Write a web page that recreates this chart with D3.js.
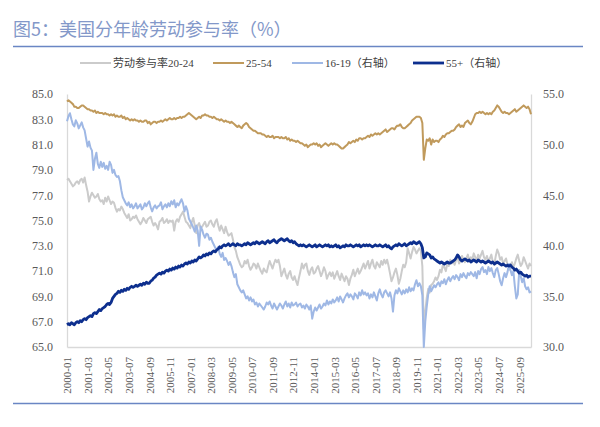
<!DOCTYPE html>
<html>
<head>
<meta charset="utf-8">
<script src="https://cdn.jsdelivr.net/npm/d3@7"></script>
<style>
  body { margin: 0; background: #fff; }
  svg { display: block; }
</style>
</head>
<body>
<div id="chart"></div>
<script>
// monthly categories 2000-01 .. 2026-05
const months = d3.timeMonth
  .range(new Date(2000, 0, 1), new Date(2026, 5, 1))
  .map(d3.timeFormat("%Y-%m"));

const tickLabels = ["2000-01", "2001-03", "2002-05", "2003-07", "2004-09", "2005-11",
  "2007-01", "2008-03", "2009-05", "2010-07", "2011-09", "2012-11", "2014-01",
  "2015-03", "2016-05", "2017-07", "2018-09", "2019-11", "2021-01", "2022-03",
  "2023-05", "2024-07", "2025-09"];

const leftTicks = [65, 67, 69, 71, 73, 75, 77, 79, 81, 83, 85];
const rightTicks = [30, 35, 40, 45, 50, 55];

// 劳动参与率20-24 (left axis)
const lfpr2024 = [
  78.2, 78.3, 78.1, 77.9, 77.7, 77.8, 78.0, 78.1, 77.9, 78.2, 78.3, 78.0,
  78.4, 77.8, 77.3, 76.5, 76.9, 77.2, 77.0, 76.8, 76.9, 77.1, 76.7, 76.5,
  76.6, 76.3, 76.8, 76.5, 76.9, 76.6, 76.3, 76.5, 76.4, 76.0, 75.7, 75.9,
  75.8, 76.1, 75.9, 75.6, 75.4, 75.2, 75.5, 75.0, 75.1, 75.3, 75.2, 75.4,
  75.1, 74.9, 74.7, 74.9, 75.2, 75.0, 74.8, 75.1, 75.2, 75.3, 74.9, 74.6,
  74.8, 74.6, 74.3, 74.9, 75.0, 75.2, 74.8, 74.9, 75.1, 74.8, 75.0, 74.9,
  75.0, 74.2, 74.9, 75.1, 74.9, 75.3, 75.5, 75.7, 75.3, 74.9, 74.8, 74.6,
  74.4, 74.9, 75.2, 74.6, 74.0, 74.6, 74.8, 74.4, 74.5, 74.7, 74.9, 74.5,
  74.6, 74.9, 75.0, 74.7, 74.5, 74.9, 75.1, 74.6, 74.2, 74.6, 74.3, 74.0,
  74.5, 74.1, 73.8, 73.9, 74.0, 73.5, 72.9, 72.6, 72.1, 71.8, 71.5, 71.3,
  71.4, 71.8, 71.6, 71.9, 71.4, 71.1, 71.3, 71.6, 71.5, 71.2, 71.6, 71.3,
  71.0, 70.8, 71.2, 71.0, 70.9, 71.4, 71.8, 71.5, 71.2, 71.6, 71.9, 71.7,
  71.9, 71.4, 70.6, 70.9, 71.2, 70.7, 70.4, 70.8, 71.0, 70.5, 70.3, 70.6,
  70.2, 69.9, 70.5, 71.0, 71.6, 71.2, 71.5, 71.6, 71.0, 70.7, 71.1, 71.3,
  70.8, 70.9, 71.2, 71.4, 71.0, 70.6, 70.9, 71.3, 71.0, 70.4, 70.7, 70.9,
  70.6, 70.9, 70.4, 70.7, 71.0, 70.6, 70.3, 70.8, 70.5, 70.2, 70.6, 70.4,
  69.9, 70.4, 70.7, 71.1, 70.6, 70.9, 71.2, 70.8, 71.0, 71.3, 71.6, 71.2,
  71.5, 71.8, 71.2, 71.6, 71.9, 71.4, 71.2, 71.7, 71.5, 71.3, 71.8, 71.5,
  71.9, 71.6, 71.9, 71.4, 70.8, 70.2, 70.5, 70.9, 71.2, 70.7, 70.0, 70.4,
  71.0, 71.5, 71.3, 71.7, 72.8, 72.4, 72.0, 72.5, 72.9, 72.7, 72.4, 72.6,
  72.8, 72.6, 71.4, 66.4, 67.8, 68.9, 69.6, 69.3, 69.9, 70.0, 70.2, 70.5,
  70.3, 70.6, 71.1, 70.9, 71.5, 71.3, 71.0, 71.6, 71.4, 71.9, 71.6, 71.8,
  71.5, 71.9, 72.1, 71.6, 71.8, 72.2, 71.9, 71.7, 72.0, 72.3, 71.8, 72.1,
  71.9, 72.4, 72.1, 71.8, 72.3, 72.0, 72.3, 72.6, 72.1, 71.9, 72.2, 71.8,
  72.0, 72.3, 71.7, 71.5, 72.2, 72.7, 72.4, 71.9, 72.1, 71.6, 71.8, 72.0,
  71.5, 71.1, 71.4, 71.7, 71.3, 71.6, 72.0, 72.3, 71.8, 71.4, 71.6, 72.1,
  71.8, 71.5, 71.2, 71.6, 71.4
];

// 25-54 (left axis)
const lfpr2554 = [
  84.4, 84.5, 84.4, 84.3, 84.2, 84.0, 84.0, 83.9, 83.9, 84.0, 84.1, 84.1,
  84.0, 83.9, 83.8, 83.8, 83.7, 83.7, 83.6, 83.7, 83.5, 83.6, 83.5, 83.5,
  83.5, 83.4, 83.5, 83.4, 83.4, 83.3, 83.4, 83.3, 83.4, 83.2, 83.3, 83.2,
  83.2, 83.3, 83.1, 83.2, 83.0, 83.1, 83.0, 82.9, 83.0, 82.9, 83.0, 82.9,
  82.9, 82.8, 82.9, 82.8, 82.8, 82.9, 82.9, 82.7, 82.8, 82.6, 82.7, 82.8,
  82.8, 82.7, 82.8, 82.8, 82.9, 82.8, 82.9, 83.0, 82.9, 83.0, 83.1, 83.0,
  83.0, 83.1, 83.0, 83.1, 83.1, 83.2, 83.1, 83.2, 83.2, 83.3, 83.4, 83.5,
  83.4, 83.3, 83.2, 83.1, 83.0, 83.1, 83.2, 83.1, 83.3, 83.3, 83.4, 83.3,
  83.3, 83.2, 83.2, 83.1, 83.2, 83.1, 83.0, 83.0, 82.9, 83.0, 82.9, 82.8,
  82.9, 82.8, 82.8, 82.7, 82.8, 82.7, 82.6, 82.5, 82.4, 82.5, 82.4, 82.3,
  82.5, 82.6, 82.7, 82.6, 82.4, 82.3, 82.2, 82.1, 82.1, 82.0, 81.9, 81.9,
  81.9, 81.8, 81.8, 81.7, 81.6, 81.7, 81.6, 81.6, 81.7, 81.5, 81.6, 81.6,
  81.6, 81.5, 81.6, 81.5, 81.5, 81.6, 81.4, 81.5, 81.3, 81.4, 81.3, 81.3,
  81.2, 81.3, 81.2, 81.1, 81.1, 81.0, 80.9, 81.0, 80.8, 80.9, 81.0, 81.0,
  81.1, 81.0, 81.1, 80.9, 81.0, 80.8, 80.9, 81.0, 81.1, 81.0, 80.9, 81.0,
  81.1, 81.0, 81.1, 81.0, 81.0, 80.9, 80.8, 80.7, 80.7, 80.8, 80.9, 81.0,
  81.2, 81.1, 81.2, 81.3, 81.2, 81.4, 81.3, 81.5, 81.5, 81.4, 81.5, 81.5,
  81.6, 81.7, 81.6, 81.8, 81.7, 81.8, 81.9, 81.8, 81.9, 81.8, 81.9, 82.0,
  82.1, 82.2, 82.0, 82.1, 82.2, 82.3, 82.3, 82.2, 82.4, 82.5, 82.5, 82.6,
  82.4, 82.3, 82.3, 82.4, 82.5, 82.6, 82.7, 82.9, 83.0, 83.1, 83.2, 83.2,
  83.2, 83.1, 82.7, 79.8, 80.7, 81.4, 81.3, 81.5, 81.0, 81.4, 81.2, 81.3,
  81.3, 81.2, 81.4, 81.5, 81.7, 81.6, 81.8, 81.9, 81.9, 82.0, 82.1, 82.1,
  82.2, 82.4, 82.5, 82.6, 82.4, 82.5, 82.4, 82.7, 82.8, 82.9, 82.7, 82.6,
  82.8, 83.1, 83.4, 83.5, 83.5, 83.6, 83.5, 83.6, 83.5, 83.4, 83.5, 83.4,
  83.5, 83.4, 83.6, 83.7, 83.9, 84.1, 84.0, 83.8, 83.6, 83.5, 83.6, 83.5,
  83.5, 83.4, 83.5, 83.6, 83.7, 83.8, 83.6, 83.7, 83.8, 83.9, 84.0, 84.1,
  84.0, 83.9, 84.0, 83.8, 83.4
];

// 16-19 (right axis)
const lfpr1619 = [
  52.3, 52.8, 53.1, 52.5, 52.0, 51.8, 52.4, 52.1, 51.6, 51.9, 52.2, 51.7,
  51.4, 50.6, 49.8, 50.3, 49.7, 49.4, 47.5, 48.6, 49.2, 48.1, 47.7, 48.3,
  47.8, 48.2, 47.6, 47.9, 47.5, 48.3, 48.0, 47.2, 47.5, 47.0, 46.8, 46.9,
  46.4, 45.5, 44.8, 44.5, 44.2, 44.0, 44.3, 43.8, 44.1, 43.7, 43.9, 44.2,
  43.7, 43.9, 44.1, 43.6, 43.8, 44.2, 43.9, 44.2, 44.4, 43.8, 43.4, 43.8,
  44.0, 43.7, 43.9, 44.0, 44.3, 43.6, 43.9, 44.1, 43.8, 44.2, 43.9, 44.4,
  44.1, 44.5, 43.8, 44.2, 44.0, 44.3, 44.6, 44.2, 43.4, 43.9, 43.5, 42.7,
  42.4, 42.1, 41.8, 41.4, 42.0, 41.5, 40.0, 41.9, 41.6, 41.1, 40.8, 41.2,
  41.1, 40.6, 40.8, 40.4, 40.1, 39.8, 39.6, 39.9, 39.2, 38.9, 39.3, 38.6,
  38.8, 38.5, 38.1, 38.4, 38.0, 37.4, 36.9, 37.2, 36.2, 35.9, 35.6, 35.4,
  35.6, 35.2, 34.8, 35.0, 34.6, 34.9, 34.5, 34.7, 34.2, 34.4, 34.0, 34.3,
  34.1, 33.9, 33.7, 34.0, 34.4, 34.2, 34.5, 34.1, 33.8, 34.3, 34.0, 33.7,
  34.0, 34.3, 34.1, 33.8, 34.2, 34.5, 34.0, 34.3, 33.9, 34.4, 34.1, 34.2,
  34.4, 34.0, 34.2, 34.3, 33.9, 34.1, 33.8, 34.2, 34.0, 33.7, 34.1, 32.8,
  33.5, 33.9, 33.6, 33.9, 34.2, 33.8, 34.0, 34.3, 34.1, 34.6, 34.2, 34.5,
  34.3, 34.7, 34.4, 34.6, 34.9, 34.5, 35.0, 34.7, 34.4, 34.8, 35.1, 35.3,
  34.9, 35.2, 35.0, 34.7, 35.3, 35.1, 34.8, 35.4, 35.1, 35.6, 35.2, 35.4,
  35.1, 35.3, 34.8, 35.2, 34.9, 35.4, 35.0, 34.6, 35.3, 35.7, 35.2, 34.9,
  35.4, 35.6, 35.3, 35.0, 35.4, 34.8, 33.5, 35.1, 35.6, 35.3, 35.8, 35.5,
  35.2, 35.6, 35.3, 35.7, 35.4, 35.9, 35.5, 35.8, 35.6, 36.2, 36.6, 36.0,
  36.3, 36.0, 35.1, 30.0, 32.5, 34.0, 35.2, 36.0, 35.5, 35.8, 36.1, 35.9,
  36.2, 36.4, 36.0, 36.5, 36.3, 36.7, 36.2, 36.6, 36.9, 36.5, 36.8, 37.0,
  36.7, 37.1, 36.9, 36.6, 37.2, 36.9, 37.3, 37.0, 36.8, 37.3, 37.1, 37.4,
  37.2, 37.0, 37.4, 36.8, 37.5, 37.2, 37.7, 37.9, 37.4, 37.6, 37.2, 37.9,
  37.5, 37.8, 37.3, 36.9, 37.6, 37.8, 37.2, 36.5, 36.1, 36.8, 37.3, 36.9,
  37.4, 38.2, 37.6, 37.1, 37.5, 36.0, 34.8, 35.2, 37.6, 37.0, 36.4, 36.8,
  36.0, 35.7, 35.9, 35.4, 35.5
];

// 55+ (right axis)
const lfpr55 = [
  32.2, 32.3, 32.2, 32.4, 32.3, 32.2, 32.4, 32.5, 32.4, 32.6, 32.5, 32.7,
  32.8, 32.7, 32.9, 33.0, 33.1, 33.0, 33.3, 33.4, 33.3, 33.5, 33.7, 33.6,
  33.8, 33.9, 34.0, 34.2, 34.3, 34.2, 34.4, 34.8, 35.0, 35.2, 35.3, 35.5,
  35.4, 35.6, 35.5, 35.7, 35.6, 35.8, 35.7, 35.9, 36.0, 35.9, 36.0, 36.1,
  36.0, 36.1, 36.2, 36.1, 36.3, 36.2, 36.4, 36.3, 36.3, 36.5, 36.6, 36.8,
  36.9, 37.1, 37.2, 37.3, 37.2, 37.4, 37.3, 37.5, 37.6, 37.5, 37.7, 37.6,
  37.8, 37.7, 37.9, 37.8, 38.0, 37.9, 38.1, 38.0, 38.2, 38.3, 38.2, 38.4,
  38.3, 38.5, 38.4, 38.6, 38.5, 38.7, 38.9, 38.8, 38.9, 39.1, 39.0, 39.2,
  39.1, 39.3, 39.2, 39.4, 39.5, 39.4, 39.6, 39.7, 39.9, 39.8, 40.0, 40.1,
  40.0, 40.1, 40.2, 40.0, 40.1, 40.2, 40.1, 40.0, 40.2, 40.1, 40.1, 40.0,
  40.1, 40.2, 40.1, 40.3, 40.2, 40.1, 40.2, 40.3, 40.2, 40.4, 40.3, 40.2,
  40.3, 40.4, 40.3, 40.2, 40.4, 40.5, 40.3, 40.4, 40.5, 40.6, 40.4, 40.3,
  40.5, 40.6, 40.7, 40.6, 40.5, 40.6, 40.7, 40.5, 40.4, 40.5, 40.3, 40.4,
  40.2, 40.1, 40.0, 40.1, 40.0, 40.1, 40.0, 39.9, 40.0, 40.1, 40.0, 39.9,
  40.0, 40.1, 39.9, 40.0, 40.1, 40.0, 39.9, 40.0, 40.1, 40.0, 40.1, 39.9,
  40.0, 39.9, 40.0, 40.1, 39.9, 40.0, 39.8, 39.9, 40.0, 39.9, 40.1, 40.0,
  40.0, 40.1, 40.0, 39.9, 40.0, 40.1, 40.0, 40.1, 39.9, 40.0, 40.1, 40.0,
  40.1, 40.0, 40.1, 40.0, 39.9, 40.0, 40.1, 40.0, 40.0, 40.1, 40.0, 39.9,
  40.0, 40.1, 39.9, 40.0, 39.8, 39.7, 39.9, 40.0, 40.1, 40.0, 40.2, 40.1,
  40.0, 40.1, 40.2, 40.0, 40.1, 40.2, 40.3, 40.2, 40.4, 40.3, 40.2, 40.3,
  40.4, 40.2, 39.8, 38.8, 38.9, 39.3, 39.2, 39.1, 38.8, 38.9, 38.7, 38.6,
  38.5, 38.4, 38.3, 38.4, 38.3, 38.2, 38.3, 38.4, 38.3, 38.3, 38.4, 38.5,
  38.6, 38.8, 39.1, 38.9, 38.6, 38.5, 38.6, 38.7, 38.6, 38.5, 38.6, 38.4,
  38.5, 38.6, 38.5, 38.4, 38.6, 38.5, 38.4, 38.5, 38.4, 38.3, 38.4, 38.5,
  38.4, 38.3, 38.4, 38.2, 38.3, 38.4, 38.3, 38.2, 38.1, 38.2, 38.1, 38.0,
  38.1, 38.0, 38.1, 37.9, 37.8, 37.6, 37.7, 37.5, 37.3, 37.4, 37.2, 37.1,
  37.0, 37.1, 36.9, 37.0, 37.0
];

const seriesNames = ["劳动参与率20-24", "25-54", "16-19（右轴）", "55+（右轴）"];
const seriesColors = ["#cbcbcb", "#c09a5c", "#9fb8e5", "#0d2f8e"];

const W = 600, H = 427;
const plot = { left: 67, right: 531, top: 94, bottom: 347 };
const numFont = "'Liberation Serif', 'Noto Sans CJK SC', serif";

const svg = d3.select("#chart").append("svg")
  .attr("width", W).attr("height", H)
  .style("background", "#fff");

// title and frame rules
svg.append("text")
  .attr("x", 13).attr("y", 36)
  .attr("font-family", "'Noto Sans CJK SC', sans-serif")
  .attr("font-size", 18)
  .attr("fill", "#8398c9")
  .text("图5：美国分年龄劳动参与率（%）");
svg.append("line").attr("x1", 13).attr("x2", 583).attr("y1", 46.5).attr("y2", 46.5)
  .attr("stroke", "#6a86c4").attr("stroke-width", 1.6);
svg.append("line").attr("x1", 13).attr("x2", 583).attr("y1", 403.5).attr("y2", 403.5)
  .attr("stroke", "#6a86c4").attr("stroke-width", 1.6);

const x = d3.scalePoint().domain(months).range([plot.left, plot.right]);
const yL = d3.scaleLinear().domain([65, 85]).range([plot.bottom, plot.top]);
const yR = d3.scaleLinear().domain([30, 55]).range([plot.bottom, plot.top]);

// axes
const axisL = svg.append("g")
  .attr("transform", `translate(${plot.left},0)`)
  .call(d3.axisLeft(yL).tickValues(leftTicks).tickFormat(d3.format(".1f"))
    .tickSize(0).tickPadding(14));
const axisR = svg.append("g")
  .attr("transform", `translate(${plot.right},0)`)
  .call(d3.axisRight(yR).tickValues(rightTicks).tickFormat(d3.format(".1f"))
    .tickSize(0).tickPadding(12));
const axisB = svg.append("g")
  .attr("transform", `translate(0,${plot.bottom})`)
  .call(d3.axisBottom(x).tickValues(tickLabels).tickSize(0));

axisB.selectAll("text")
  .attr("y", 0).attr("x", -10).attr("dy", "0.35em")
  .attr("transform", "rotate(-90)")
  .attr("text-anchor", "end");

[axisL, axisR, axisB].forEach(g => {
  g.select(".domain").attr("stroke", "#d9d9d9").attr("stroke-width", 1.3);
  g.selectAll("text")
    .attr("font-family", numFont)
    .attr("fill", "#595959");
});
axisL.selectAll("text").attr("font-size", 12);
axisR.selectAll("text").attr("font-size", 12);
axisB.selectAll("text").attr("font-size", 11);

// lines
const layers = [
  { values: lfpr2024, y: yL, width: 2 },
  { values: lfpr2554, y: yL, width: 2 },
  { values: lfpr1619, y: yR, width: 2 },
  { values: lfpr55, y: yR, width: 2.8 }
];

layers.forEach((s, i) => {
  const line = d3.line()
    .x((d, j) => x(months[j]))
    .y(d => s.y(d));
  svg.append("path")
    .datum(s.values)
    .attr("fill", "none")
    .attr("stroke", seriesColors[i])
    .attr("stroke-width", s.width)
    .attr("stroke-linejoin", "round")
    .attr("d", line);
});

// legend
const legendX = [80, 213, 292, 413];
const legend = svg.append("g").attr("transform", "translate(0,63)");
seriesNames.forEach((name, i) => {
  legend.append("line")
    .attr("x1", legendX[i]).attr("x2", legendX[i] + 31)
    .attr("y1", 0).attr("y2", 0)
    .attr("stroke", seriesColors[i])
    .attr("stroke-width", i === 3 ? 2.8 : 2);
  legend.append("text")
    .attr("x", legendX[i] + 33).attr("y", 0).attr("dy", "0.35em")
    .attr("font-family", numFont)
    .attr("font-size", 11)
    .attr("fill", "#404040")
    .text(name);
});
</script>
</body>
</html>
